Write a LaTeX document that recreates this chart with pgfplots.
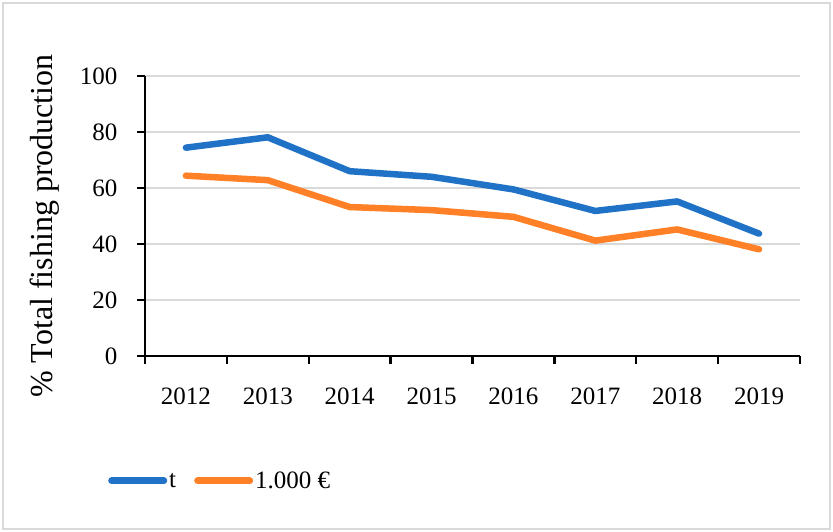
\documentclass[border=0pt]{standalone}
\usepackage{fontspec}
\setmainfont{Liberation Serif}
\usepackage{pgfplots}
\pgfplotsset{compat=1.18}
\definecolor{tblue}{HTML}{1F72C6}
\definecolor{torange}{HTML}{FF8026}
\definecolor{gridgray}{HTML}{D9D9D9}

\begin{document}
\begin{tikzpicture}[x=1pt,y=1pt]
\path[use as bounding box] (0,0) rectangle (833,532);
\draw[gridgray, line width=1.5pt] (3,3) rectangle (830,529);
\begin{axis}[
  at={(145pt,176pt)}, anchor=south west,
  scale only axis, width=655pt, height=280pt,
  xmin=-0.5, xmax=7.5, ymin=0, ymax=100,
  axis lines*=left,
  axis line style={black, line width=2.5pt, -},
  xtick={-0.5,0.5,1.5,2.5,3.5,4.5,5.5,6.5,7.5},
  x tick label as interval,
  xticklabels={2012,2013,2014,2015,2016,2017,2018,2019},
  ytick={0,20,...,100},
  tick align=outside,
  major tick length=8pt,
  tick style={black, line width=2.5pt},
  ymajorgrids, grid style={gridgray, line width=2pt},
  /pgf/number format/assume math mode=true,
  ticklabel style={font=\fontsize{25}{29}\selectfont},
  yticklabel style={xshift=-16pt},
  xticklabel style={yshift=-20pt},
  ylabel={\% Total fishing production},
  ylabel style={at={(axis description cs:-0.153,0.464)}, anchor=center, font=\fontsize{32}{36}\selectfont},
  legend style={at={(axis description cs:-0.061,-0.446)}, anchor=west, draw=none, fill=none,
    legend columns=2, font=\fontsize{25}{29}\selectfont,
    /tikz/every even column/.append style={column sep=16pt}},
  legend cell align=left,
  legend image code/.code={\draw[#1, line width=7pt, line cap=round] (3pt,0pt) -- (55pt,0pt);},
]
\addplot[tblue, line width=6.5pt, line cap=round, line join=round] coordinates {
  (0,74.4) (1,78.1) (2,66.0) (3,64.0) (4,59.5) (5,51.8) (6,55.2) (7,43.7)};
\addplot[torange, line width=6.5pt, line cap=round, line join=round] coordinates {
  (0,64.4) (1,62.8) (2,53.2) (3,52.1) (4,49.7) (5,41.2) (6,45.2) (7,38.1)};
\legend{t, 1.000 €}
\end{axis}
\end{tikzpicture}
\end{document}
